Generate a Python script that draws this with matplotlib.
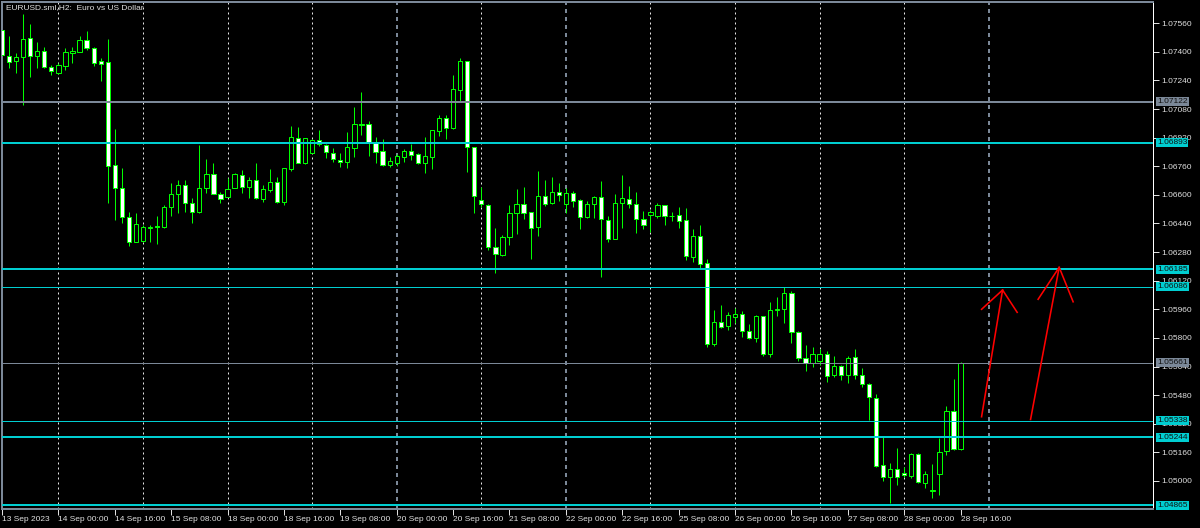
import numpy as np
import matplotlib.pyplot as plt
import matplotlib.transforms as mtrans

plt.rcParams['font.family'] = ['Liberation Sans', 'DejaVu Sans']

# EURUSD H2, bar 0 = 13 Sep 2023 08:00 (open, high, low, close)
opens = [
    1.07522, 1.07377, 1.07349, 1.07373, 1.07476, 1.07377, 1.07405, 1.07314,  # 13 Sep
    1.07280, 1.07323, 1.07395, 1.07401, 1.07465, 1.07420, 1.07349, 1.07343,  # 14 Sep
    1.06767, 1.06637, 1.06478, 1.06338,
    1.06344, 1.06417, 1.06424, 1.06422, 1.06530, 1.06603, 1.06653, 1.06553,  # 15 Sep
    1.06504, 1.06637, 1.06717, 1.06605,
    1.06590, 1.06637, 1.06711, 1.06646, 1.06683, 1.06577, 1.06627, 1.06672,  # 18 Sep
    1.06562, 1.06745, 1.06916, 1.06776,
    1.06832, 1.06907, 1.06877, 1.06836, 1.06795, 1.06782, 1.06860, 1.06998,  # 19 Sep
    1.06995, 1.06888, 1.06845, 1.06767,
    1.06776, 1.06813, 1.06847, 1.06827, 1.06780, 1.06813, 1.06957, 1.07028,  # 20 Sep
    1.06972, 1.07187, 1.07349, 1.06869,
    1.06571, 1.06543, 1.06307, 1.06264, 1.06366, 1.06500, 1.06549, 1.06502,  # 21 Sep
    1.06422, 1.06594, 1.06553, 1.06614,
    1.06549, 1.06609, 1.06571, 1.06474, 1.06547, 1.06590, 1.06459, 1.06351,  # 22 Sep
    1.06553, 1.06575, 1.06547, 1.06463,
    1.06487, 1.06483, 1.06543, 1.06483, 1.06486, 1.06459, 1.06254, 1.06370,  # 25 Sep
    1.06217, 1.05766, 1.05890, 1.05866,
    1.05918, 1.05932, 1.05838, 1.05798, 1.05922, 1.05710, 1.05958, 1.05960,  # 26 Sep
    1.06049, 1.05835, 1.05686, 1.05661,
    1.05673, 1.05708, 1.05592, 1.05643, 1.05592, 1.05691, 1.05592, 1.05542,  # 27 Sep
    1.05462, 1.05089, 1.05023, 1.05065,
    1.05046, 1.05029, 1.05149, 1.04990, 1.04945, 1.05037, 1.05167, 1.05393,  # 28 Sep
    1.05177,
]
highs = [
    1.07535, 1.07489, 1.07394, 1.07612, 1.07556, 1.07457, 1.07429, 1.07326,
    1.07336, 1.07423, 1.07429, 1.07489, 1.07518, 1.07425, 1.07364, 1.07470,
    1.06967, 1.06748, 1.06506, 1.06499,
    1.06431, 1.06431, 1.06482, 1.06543, 1.06668, 1.06683, 1.06683, 1.06581,
    1.06879, 1.06799, 1.06776, 1.06618,
    1.06693, 1.06724, 1.06739, 1.06702, 1.06776, 1.06655, 1.06743, 1.06698,
    1.06748, 1.06985, 1.06978, 1.06920,
    1.06911, 1.06963, 1.06884, 1.06860, 1.06832, 1.06952, 1.07093, 1.07175,
    1.07011, 1.06925, 1.06911, 1.06810,
    1.06828, 1.06856, 1.06884, 1.06832, 1.06925, 1.06963, 1.07047, 1.07047,
    1.07270, 1.07364, 1.07349, 1.06869,
    1.06646, 1.06549, 1.06413, 1.06375, 1.06543, 1.06631, 1.06642, 1.06502,
    1.06733, 1.06683, 1.06698, 1.06665,
    1.06637, 1.06622, 1.06575, 1.06566, 1.06594, 1.06678, 1.06483, 1.06605,
    1.06711, 1.06650, 1.06614, 1.06510,
    1.06515, 1.06553, 1.06543, 1.06506, 1.06534, 1.06525, 1.06409, 1.06431,
    1.06240, 1.05956, 1.05984, 1.05946,
    1.05965, 1.05950, 1.05878, 1.05928, 1.05922, 1.06002, 1.06027, 1.06086,
    1.06062, 1.05838, 1.05760, 1.05751,
    1.05736, 1.05727, 1.05699, 1.05648, 1.05699, 1.05736, 1.05630, 1.05546,
    1.05486, 1.05244, 1.05102, 1.05182,
    1.05079, 1.05154, 1.05158, 1.05055, 1.05094, 1.05242, 1.05419, 1.05568,
    1.05667,
]
lows = [
    1.07370, 1.07308, 1.07282, 1.07103, 1.07261, 1.07308, 1.07308, 1.07270,
    1.07276, 1.07298, 1.07339, 1.07401, 1.07410, 1.07321, 1.07239, 1.06553,
    1.06459, 1.06444, 1.06314, 1.06338,
    1.06338, 1.06338, 1.06325, 1.06413, 1.06482, 1.06497, 1.06506, 1.06444,
    1.06497, 1.06609, 1.06605, 1.06553,
    1.06590, 1.06637, 1.06612, 1.06581, 1.06575, 1.06562, 1.06618, 1.06556,
    1.06543, 1.06735, 1.06776, 1.06772,
    1.06832, 1.06875, 1.06804, 1.06785, 1.06758, 1.06748, 1.06813, 1.06935,
    1.06819, 1.06780, 1.06763, 1.06758,
    1.06761, 1.06785, 1.06795, 1.06773, 1.06724, 1.06743, 1.06929, 1.06911,
    1.06967, 1.07121, 1.06730, 1.06497,
    1.06534, 1.06292, 1.06165, 1.06258, 1.06320, 1.06381, 1.06465, 1.06241,
    1.06370, 1.06539, 1.06549, 1.06567,
    1.06497, 1.06530, 1.06407, 1.06469, 1.06469, 1.06142, 1.06338, 1.06351,
    1.06416, 1.06525, 1.06388, 1.06409,
    1.06394, 1.06469, 1.06431, 1.06455, 1.06416, 1.06236, 1.06226, 1.06189,
    1.05747, 1.05755, 1.05854, 1.05844,
    1.05885, 1.05803, 1.05792, 1.05779, 1.05699, 1.05695, 1.05922, 1.05885,
    1.05773, 1.05671, 1.05616, 1.05639,
    1.05648, 1.05555, 1.05579, 1.05565, 1.05546, 1.05568, 1.05523, 1.05341,
    1.05079, 1.05001, 1.04875, 1.04977,
    1.05020, 1.05014, 1.04986, 1.04958, 1.04906, 1.04921, 1.05145, 1.05173,
    1.05173,
]
closes = [
    1.07382, 1.07345, 1.07373, 1.07470, 1.07378, 1.07405, 1.07317, 1.07295,
    1.07325, 1.07399, 1.07403, 1.07465, 1.07423, 1.07336, 1.07332, 1.06763,
    1.06637, 1.06478, 1.06338, 1.06435,
    1.06422, 1.06420, 1.06422, 1.06530, 1.06603, 1.06653, 1.06556, 1.06504,
    1.06637, 1.06717, 1.06605, 1.06575,
    1.06631, 1.06717, 1.06646, 1.06683, 1.06581, 1.06633, 1.06674, 1.06562,
    1.06748, 1.06922, 1.06776, 1.06916,
    1.06907, 1.06884, 1.06841, 1.06799, 1.06782, 1.06866, 1.06996, 1.06992,
    1.06892, 1.06841, 1.06767, 1.06788,
    1.06819, 1.06847, 1.06823, 1.06780, 1.06817, 1.06963, 1.07028, 1.06972,
    1.07191, 1.07349, 1.06869, 1.06594,
    1.06547, 1.06307, 1.06267, 1.06366, 1.06500, 1.06549, 1.06500, 1.06416,
    1.06594, 1.06549, 1.06614, 1.06599,
    1.06609, 1.06567, 1.06474, 1.06547, 1.06590, 1.06463, 1.06351, 1.06553,
    1.06581, 1.06549, 1.06465, 1.06431,
    1.06502, 1.06543, 1.06483, 1.06482, 1.06455, 1.06258, 1.06370, 1.06212,
    1.05766, 1.05890, 1.05862, 1.05928,
    1.05934, 1.05840, 1.05801, 1.05922, 1.05710, 1.05956, 1.05960, 1.06049,
    1.05835, 1.05686, 1.05658, 1.05710,
    1.05708, 1.05588, 1.05643, 1.05592, 1.05689, 1.05590, 1.05540, 1.05468,
    1.05083, 1.05023, 1.05065, 1.05020,
    1.05033, 1.05149, 1.04992, 1.05037, 1.04949, 1.05163, 1.05393, 1.05177,
    1.05661,
]

# time axis labels, one every 8 bars starting at bar 0
time_labels = ['13 Sep 2023', '14 Sep 00:00', '14 Sep 16:00', '15 Sep 08:00',
               '18 Sep 00:00', '18 Sep 16:00', '19 Sep 08:00', '20 Sep 00:00',
               '20 Sep 16:00', '21 Sep 08:00', '22 Sep 00:00', '22 Sep 16:00',
               '25 Sep 08:00', '26 Sep 00:00', '26 Sep 16:00', '27 Sep 08:00',
               '28 Sep 00:00', '28 Sep 16:00']
day_starts = [8, 20, 32, 44, 56, 68, 80, 92, 104, 116, 128, 140]
price_ticks = [1.07560, 1.07400, 1.07240, 1.07080, 1.06920, 1.06760, 1.06600,
               1.06440, 1.06280, 1.06120, 1.05960, 1.05800, 1.05640, 1.05480,
               1.05320, 1.05160, 1.05000]

# horizontal levels: price, colour kind, thick?
levels = [1.07122, 1.06893, 1.06185, 1.06086, 1.05661, 1.05338, 1.05244, 1.04865]
level_kind = ['grey', 'cyan', 'cyan', 'cyan', 'grey', 'cyan', 'cyan', 'cyan']
level_thick = [True, True, True, False, False, False, True, True]

# hand drawn arrows: (bar, price) of tail, tip, left barb, right barb
arrow_tail = [(138.98, 1.05359), (145.93, 1.05344)]
arrow_tip = [(141.96, 1.06068), (149.99, 1.06195)]
arrow_left = [(138.98, 1.05960), (147.00, 1.06016)]
arrow_right = [(144.03, 1.05943), (151.97, 1.06002)]

CYAN = '#00ced1'
GREY = '#7b8898'
LIME = '#00ff00'
px = 0.72  # one pixel in points

fig = plt.figure(figsize=(12, 5.28), dpi=100, facecolor='black')
ax = fig.add_axes([2 / 1200, 19 / 528, 1151 / 1200, 507 / 528])
ax.set_facecolor('black')

o = np.array(opens)
h = np.array(highs)
l = np.array(lows)
c = np.array(closes)
x = np.arange(len(o))
bull = c >= o

# grid (day separators)
for d in day_starts:
    if d in (56, 80, 140):
        ax.axvline(d, color=GREY, lw=2 * px, ls=(0, (2, 2)), zorder=1)
    else:
        ax.axvline(d, color='#e8e8e8', lw=px, ls=(0, (2, 3)), zorder=1)

# candles
ax.vlines(x, l, h, color=LIME, lw=px, zorder=2)
ax.bar(x, np.abs(c - o), bottom=np.minimum(o, c), width=0.6,
       color=np.where(bull, 'black', 'white'), edgecolor=LIME, linewidth=px, zorder=3)

# levels
for p, kind, thick in zip(levels, level_kind, level_thick):
    col = CYAN if kind == 'cyan' else GREY
    ax.axhline(p, color=col, lw=(2 if thick else 1) * px, zorder=4)
    ax.annotate(f'{p:.5f}', xy=(1, p), xycoords=('axes fraction', 'data'),
                xytext=(4, 0), textcoords='offset pixels', ha='left', va='center',
                fontsize=6, color='#101010', annotation_clip=False, zorder=10,
                bbox=dict(boxstyle='square,pad=0.12', fc=col, ec='none'))

# arrows
for t0, t1, bl, br in zip(arrow_tail, arrow_tip, arrow_left, arrow_right):
    ax.plot([t0[0], t1[0]], [t0[1], t1[1]], color='red', lw=1.6 * px, zorder=5)
    ax.plot([bl[0], t1[0], br[0]], [bl[1], t1[1], br[1]], color='red', lw=1.6 * px, zorder=5)

ax.set_xlim(0.01, 163.3)
ax.set_ylim(1.04843, 1.07679)

ax.set_xticks(np.arange(len(time_labels)) * 8, time_labels, ha='left')
off = mtrans.ScaledTranslation(2 / 100, 0, fig.dpi_scale_trans)
for lab in ax.get_xticklabels():
    lab.set_transform(lab.get_transform() + off)
ax.tick_params(axis='x', colors='#e0e0e0', length=4, width=px, pad=1, labelsize=6)

ax.yaxis.tick_right()
ax.set_yticks(price_ticks, [f'{t:.5f}' for t in price_ticks])
ax.tick_params(axis='y', colors='#e0e0e0', length=4, width=px, pad=2, labelsize=6)

for s in ['left', 'top', 'bottom']:
    ax.spines[s].set_color(GREY)
    ax.spines[s].set_linewidth(2 * px)
ax.spines['right'].set_color('white')
ax.spines['right'].set_linewidth(px)

fig.text(6 / 1200, 1 - 8 / 528, 'EURUSD.sml,H2:  Euro vs US Dollar', color='#e0e0e0',
         fontsize=6, ha='left', va='center')

fig.savefig('out.png', dpi=100, facecolor='black')
